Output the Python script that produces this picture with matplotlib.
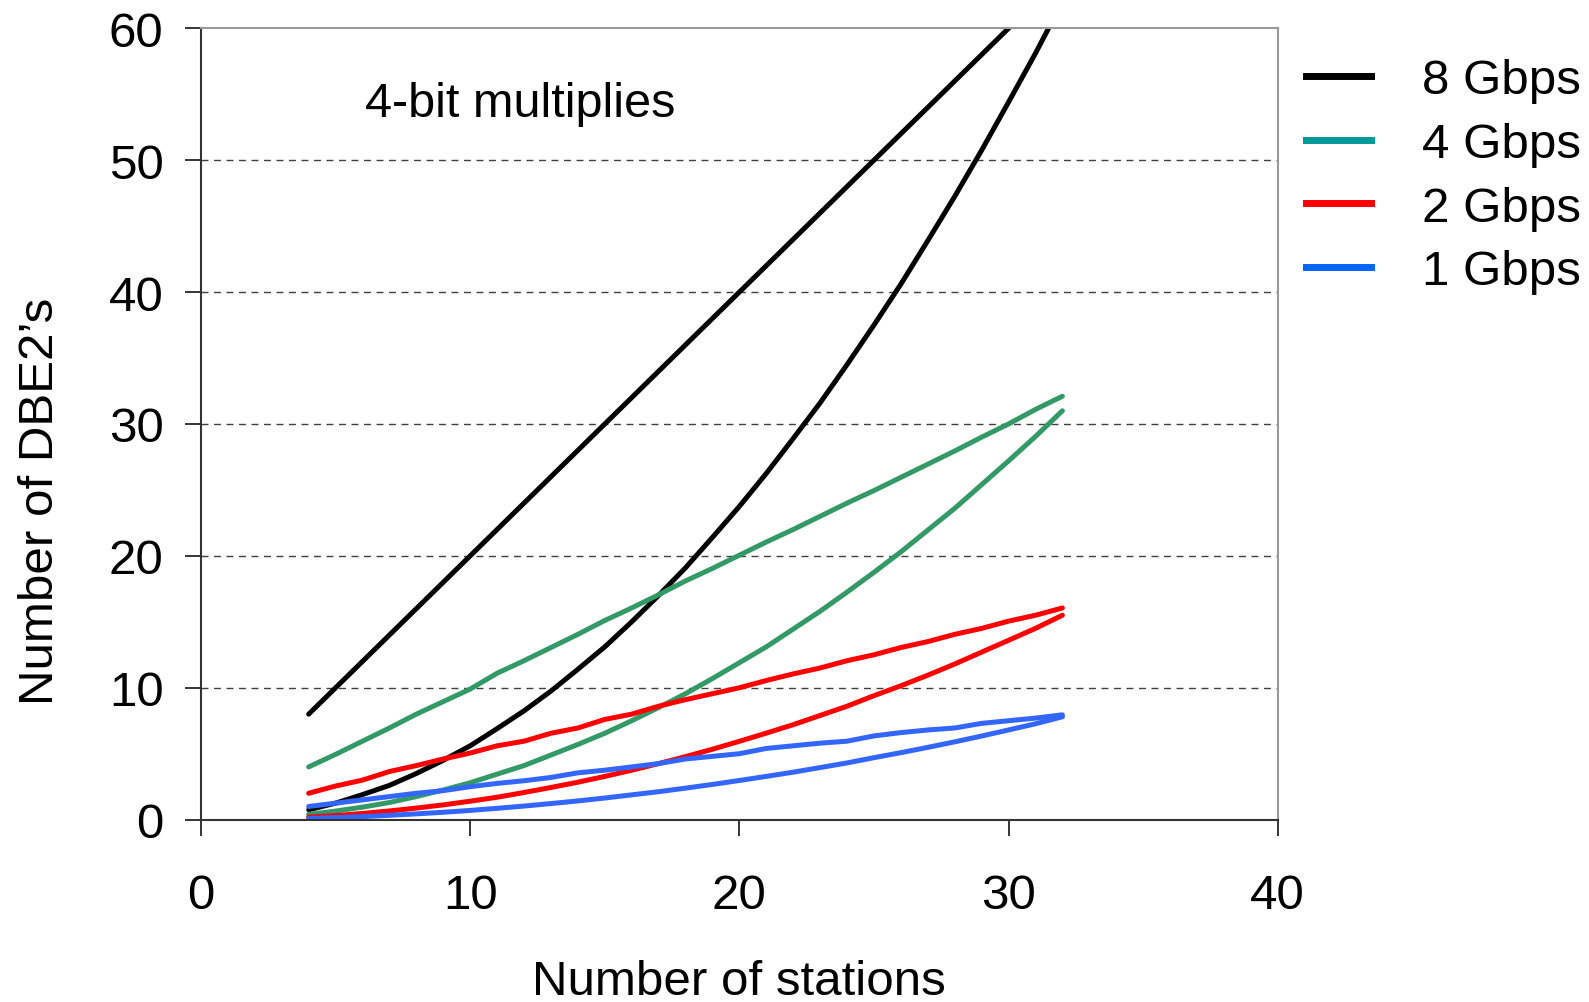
import numpy as np
import matplotlib.pyplot as plt
from matplotlib.lines import Line2D

plt.rcParams['font.family'] = ['Liberation Sans', 'DejaVu Sans']

# number of stations
stations = list(range(4, 33))

# each data rate has a linear and a quadratic curve
gbps8_a = [8, 10, 12, 14, 16, 18, 20, 22, 24, 26, 28, 30, 32, 34, 36, 38, 40, 42,
           44, 46, 48, 50, 52, 54, 56, 58, 60, 62, 64]
gbps8_b = [0.75, 1.25, 1.9, 2.6, 3.5, 4.5, 5.6, 6.9, 8.25, 9.75, 11.4, 13.1, 15.0,
           17.0, 19.1, 21.4, 23.75, 26.25, 28.9, 31.6, 34.5, 37.5, 40.6, 43.9,
           47.25, 50.75, 54.4, 58.1, 62.0]
gbps4_a = [4, 4.95, 5.95, 6.95, 8.0, 8.95, 9.9, 11.1, 12.05, 13.05, 14.05, 15.1,
           16.05, 17.05, 18.1, 19.05, 20.05, 21.05, 22.0, 23.0, 24.0, 24.95, 25.95,
           26.95, 27.95, 29.0, 30.0, 31.1, 32.1]
gbps4_b = [0.4, 0.65, 0.95, 1.3, 1.75, 2.25, 2.8, 3.45, 4.1, 4.9, 5.7, 6.55, 7.5,
           8.5, 9.55, 10.7, 11.9, 13.1, 14.45, 15.8, 17.25, 18.75, 20.3, 21.95,
           23.6, 25.4, 27.2, 29.05, 31.0]
gbps2_a = [2.0, 2.55, 3.0, 3.65, 4.1, 4.6, 5.05, 5.6, 5.95, 6.55, 6.95, 7.6, 8.0,
           8.6, 9.1, 9.55, 10.0, 10.55, 11.05, 11.5, 12.05, 12.5, 13.05, 13.5,
           14.05, 14.5, 15.05, 15.5, 16.05]
gbps2_b = [0.19, 0.31, 0.47, 0.66, 0.88, 1.12, 1.4, 1.7, 2.06, 2.44, 2.84, 3.28,
           3.75, 4.25, 4.78, 5.34, 5.94, 6.56, 7.2, 7.9, 8.6, 9.4, 10.15, 10.95,
           11.8, 12.7, 13.6, 14.5, 15.5]
gbps1_a = [1.0, 1.25, 1.5, 1.75, 2.0, 2.2, 2.5, 2.75, 2.95, 3.2, 3.55, 3.75, 4.0,
           4.25, 4.6, 4.8, 5.0, 5.4, 5.6, 5.8, 5.95, 6.35, 6.6, 6.8, 6.95, 7.3,
           7.5, 7.7, 7.95]
gbps1_b = [0.09, 0.16, 0.23, 0.33, 0.44, 0.56, 0.7, 0.86, 1.03, 1.22, 1.42, 1.64,
           1.88, 2.12, 2.39, 2.67, 2.97, 3.28, 3.6, 3.95, 4.3, 4.7, 5.08, 5.48,
           5.9, 6.34, 6.8, 7.27, 7.8]

labels = ['8 Gbps', '4 Gbps', '2 Gbps', '1 Gbps']
line_cols = ['#000000', '#339966', '#ff0000', '#3366ff']
legend_cols = ['#000000', '#009999', '#ff0000', '#0066ff']

FS = 35.5

fig = plt.figure(figsize=(15.89, 10.03), dpi=100)
ax = fig.add_axes([0.1265, 0.1818, 0.6776, 0.789])

series = [(gbps8_a, gbps8_b), (gbps4_a, gbps4_b), (gbps2_a, gbps2_b), (gbps1_a, gbps1_b)]
for (ya, yb), c in zip(series, line_cols):
    ax.plot(stations, ya, '-', color=c, lw=3.6, solid_capstyle='round')
    ax.plot(stations, yb, '-', color=c, lw=3.6, solid_capstyle='round')

ax.set_xlim(0, 40)
ax.set_ylim(0, 60)
ax.set_xticks([0, 10, 20, 30, 40])
ax.set_yticks([0, 10, 20, 30, 40, 50, 60])
for yv in [10, 20, 30, 40, 50]:
    ax.axhline(yv, color='#404040', lw=1.0, ls=(0, (5, 4)), zorder=0)

ax.spines['left'].set_color('#333333')
ax.spines['bottom'].set_color('#333333')
ax.spines['top'].set_color('#999999')
ax.spines['right'].set_color('#999999')
for s in ax.spines.values():
    s.set_linewidth(1.5)

ax.tick_params(axis='x', direction='out', length=11.5, width=1.1, pad=27,
               labelsize=FS, top=False)
ax.tick_params(axis='y', direction='out', length=11.5, width=1.1, pad=15.5,
               labelsize=FS, right=False)

ax.set_xlabel('Number of stations', fontsize=FS)
ax.set_ylabel('Number of DBE2\u2019s', fontsize=FS)
ax.xaxis.set_label_coords(0.5, -0.176)
ax.yaxis.set_label_coords(-0.128, 0.404)

ax.text(6.1, 54.3, '4-bit multiplies', fontsize=35, ha='left', va='center')

handles = [Line2D([], [], color=c, lw=5) for c in legend_cols]
leg = ax.legend(handles, labels, loc='upper left', bbox_to_anchor=(0.8219, 0.941),
                bbox_transform=fig.transFigure, frameon=False, fontsize=FS,
                borderpad=0, borderaxespad=0, handlelength=1.32, handletextpad=1.03,
                labelspacing=0.38)

fig.savefig('out.png', dpi=100)
